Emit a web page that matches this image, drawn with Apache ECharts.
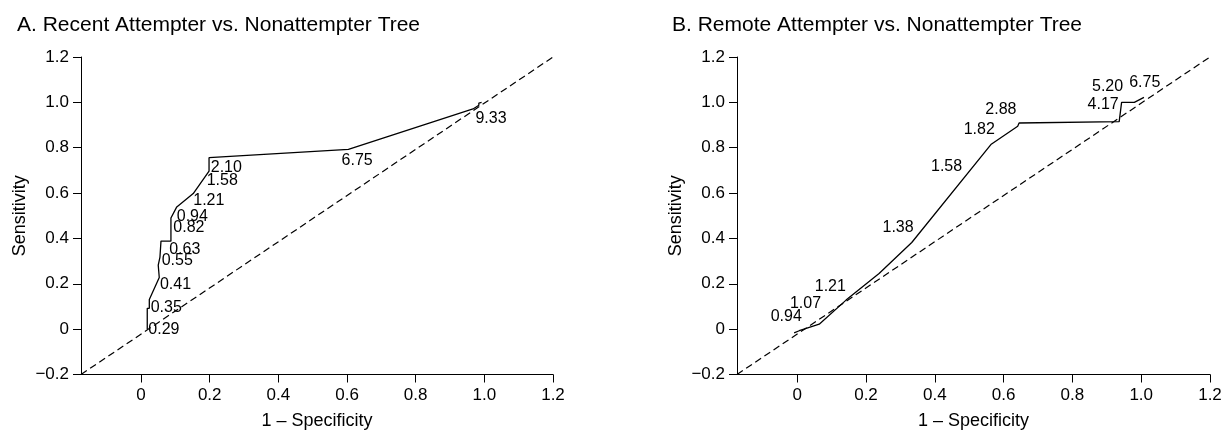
<!DOCTYPE html>
<html>
<head>
<meta charset="utf-8">
<script src="https://cdn.jsdelivr.net/npm/echarts@6.0.0/dist/echarts.min.js"></script>
<style>
  html, body { margin: 0; padding: 0; background: #fff; }
  #chart { width: 1221px; height: 431px; }
</style>
</head>
<body>
<div id="chart"></div>
<script>
// A. recent attempter tree: ROC path (1 - specificity, sensitivity)
const fprA = [0.018, 0.018, 0.024, 0.024, 0.053, 0.050, 0.055, 0.058, 0.087, 0.087, 0.104, 0.152, 0.198, 0.198, 0.604, 0.967, 0.984, 0.984, 0.992];
const tprA = [0.000, 0.092, 0.092, 0.131, 0.228, 0.282, 0.318, 0.388, 0.388, 0.490, 0.539, 0.598, 0.697, 0.756, 0.793, 0.971, 0.987, 0.997, 1.000];
// cutoff labels for A
const cutA = ['0.29', '0.35', '0.41', '0.55', '0.63', '0.82', '0.94', '1.21', '1.58', '2.10', '6.75', '9.33'];
const cutXA = [0.021, 0.028, 0.055, 0.060, 0.082, 0.094, 0.104, 0.152, 0.191, 0.203, 0.584, 0.974];
const cutYA = [0.000, 0.094, 0.197, 0.301, 0.352, 0.448, 0.498, 0.568, 0.656, 0.712, 0.744, 0.928];

// B. remote attempter tree
const fprB = [-0.009, 0.006, 0.015, 0.064, 0.142, 0.238, 0.333, 0.563, 0.641, 0.636, 0.645, 0.936, 0.943, 0.980, 1.008];
const tprB = [-0.016, -0.007, -0.002, 0.022, 0.128, 0.245, 0.382, 0.814, 0.895, 0.900, 0.909, 0.915, 1.000, 1.000, 1.022];
const cutB = ['0.94', '1.07', '1.21', '1.38', '1.58', '1.82', '2.88', '4.17', '5.20', '6.75'];
const cutXB = [-0.077, -0.021, 0.051, 0.248, 0.389, 0.484, 0.547, 0.844, 0.857, 0.965];
const cutYB = [0.054, 0.113, 0.186, 0.446, 0.715, 0.880, 0.969, 0.990, 1.070, 1.087];

// reference diagonal
const diagX = [-0.175, 1.2];
const diagY = [-0.2, 1.2];

const xTicks = [0, 0.2, 0.4, 0.6, 0.8, 1.0, 1.2];
const titles = ['A. Recent Attempter vs. Nonattempter Tree', 'B. Remote Attempter vs. Nonattempter Tree'];

const font = 'Liberation Sans, Arial, Helvetica, sans-serif';

function fmt(v) {
  if (Math.abs(v) < 1e-9) return '0';
  return v.toFixed(1).replace('-', '\u2212');
}

function pairs(xs, ys) {
  return xs.map((x, i) => [x, ys[i]]);
}

function xAxis(i) {
  return {
    type: 'value', gridIndex: i, min: -0.175, max: 1.2,
    name: '1 \u2013 Specificity', nameLocation: 'middle', nameGap: 38,
    nameTextStyle: { fontSize: 18, color: '#000', fontFamily: font },
    axisLine: { show: true, onZero: false, lineStyle: { color: '#000', width: 1 } },
    axisTick: { show: true, length: 8, customValues: xTicks, lineStyle: { color: '#000', width: 1 } },
    axisLabel: { customValues: xTicks, fontSize: 17, color: '#000', fontFamily: font, margin: 12, formatter: fmt },
    splitLine: { show: false }
  };
}

function yAxis(i) {
  return {
    type: 'value', gridIndex: i, min: -0.2, max: 1.2, interval: 0.2,
    name: 'Sensitivity', nameLocation: 'middle', nameGap: 52,
    nameTextStyle: { fontSize: 18, color: '#000', fontFamily: font },
    axisLine: { show: true, onZero: false, lineStyle: { color: '#000', width: 1 } },
    axisTick: { show: true, length: 8, lineStyle: { color: '#000', width: 1 } },
    axisLabel: { fontSize: 17, color: '#000', fontFamily: font, margin: 12, formatter: fmt, showMinLabel: true, showMaxLabel: true },
    splitLine: { show: false }
  };
}

function panel(i, fpr, tpr, cuts, cx, cy) {
  return [
    {
      type: 'line', xAxisIndex: i, yAxisIndex: i, data: pairs(diagX, diagY),
      showSymbol: false, silent: true,
      lineStyle: { color: '#000', width: 1.2, type: [7, 4] }
    },
    {
      type: 'line', xAxisIndex: i, yAxisIndex: i, data: pairs(fpr, tpr),
      showSymbol: false, silent: true,
      lineStyle: { color: '#000', width: 1.3 }
    },
    {
      type: 'scatter', xAxisIndex: i, yAxisIndex: i, symbolSize: 0, silent: true,
      data: cuts.map((c, k) => [cx[k], cy[k], c]),
      label: {
        show: true, position: 'right', distance: 0,
        formatter: p => p.value[2],
        fontSize: 16, color: '#000', opacity: 1, textBorderWidth: 0, fontFamily: font
      }
    }
  ];
}

const chart = echarts.init(document.getElementById('chart'), null, { renderer: 'canvas' });
chart.setOption({
  animation: false,
  backgroundColor: '#fff',
  title: [
    { text: titles[0], left: 12, top: 10, textStyle: { fontSize: 21, fontWeight: 'normal', color: '#000', fontFamily: font } },
    { text: titles[1], left: 667, top: 10, textStyle: { fontSize: 21, fontWeight: 'normal', color: '#000', fontFamily: font } }
  ],
  grid: [
    { left: 81, right: 668, top: 57, bottom: 56.5, outerBoundsMode: 'none', containLabel: false },
    { left: 737, right: 11, top: 57, bottom: 56.5, outerBoundsMode: 'none', containLabel: false }
  ],
  xAxis: [xAxis(0), xAxis(1)],
  yAxis: [yAxis(0), yAxis(1)],
  series: [].concat(
    panel(0, fprA, tprA, cutA, cutXA, cutYA),
    panel(1, fprB, tprB, cutB, cutXB, cutYB)
  )
});
</script>
</body>
</html>
